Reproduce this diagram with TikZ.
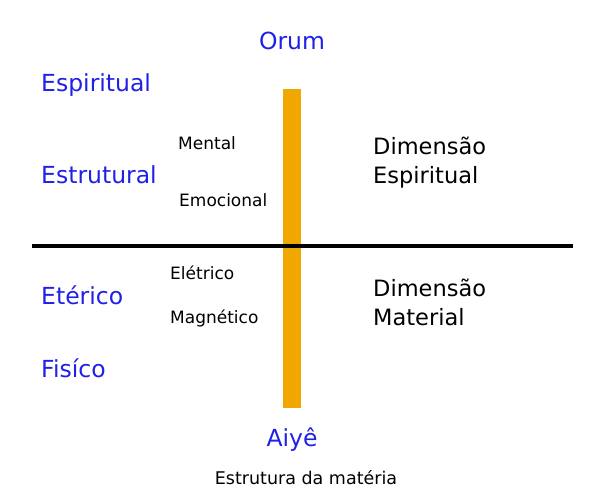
\documentclass[tikz,border=0pt]{standalone}
\usepackage{fontspec}
\setmainfont{DejaVu Sans}
\usetikzlibrary{positioning}
\definecolor{nivelblue}{RGB}{32,32,230}
\definecolor{eixoorange}{RGB}{240,168,0}
\tikzset{
  nivel/.style={anchor=west, inner sep=0pt, text=nivelblue,
                font=\fontsize{23.5}{26}\selectfont},
  polo/.style={nivel, anchor=center},
  sub/.style={anchor=west, inner sep=0pt, font=\fontsize{17}{20}\selectfont},
  dim/.style={anchor=west, inner sep=0pt, align=left,
              font=\fontsize{22.5}{29}\selectfont},
  eixo/.style={line width=18pt, eixoorange},
  divisa/.style={line width=4pt},
}

\begin{document}
\begin{tikzpicture}[x=1pt, y=-1pt]
        \useasboundingbox (0,0) rectangle (600,500);
        % eixo vertical e linha divisoria
        \coordinate (topo) at (292,89);
        \coordinate (base) at (292,408);
        \coordinate (esq) at (32,246);
        \coordinate (dir) at (573,246);
        \draw[eixo](topo)--(base);
        \draw[divisa](esq)--(dir);
        % polos
        \node[polo](orum) at (292,41){Orum};
        \node[polo](aiye) at (292,440){Aiyê};
        \node[sub, anchor=center, font=\fontsize{17.5}{20}\selectfont](titulo) at (306,478){Estrutura da matéria};
        % niveis
        \node[nivel](espiritual) at (41,85){Espiritual};
        \node[nivel](estrutural) at (41,175){Estrutural};
        \node[nivel](eterico) at (41,295){Etérico};
        \node[nivel](fisico) at (41,368){Fisíco};
        \node[sub](mental) at (178,143){Mental};
        \node[sub](emocional) at (179,200){Emocional};
        \node[sub](eletrico) at (170,273){Elétrico};
        \node[sub](magnetico) at (170,318){Magnético};
        % dimensoes
        \node[dim](dimesp) at (373,163){Dimensão\\Espiritual};
        \node[dim](dimmat) at (373,302){Dimensão\\Material};
      \end{tikzpicture}
\end{document}
